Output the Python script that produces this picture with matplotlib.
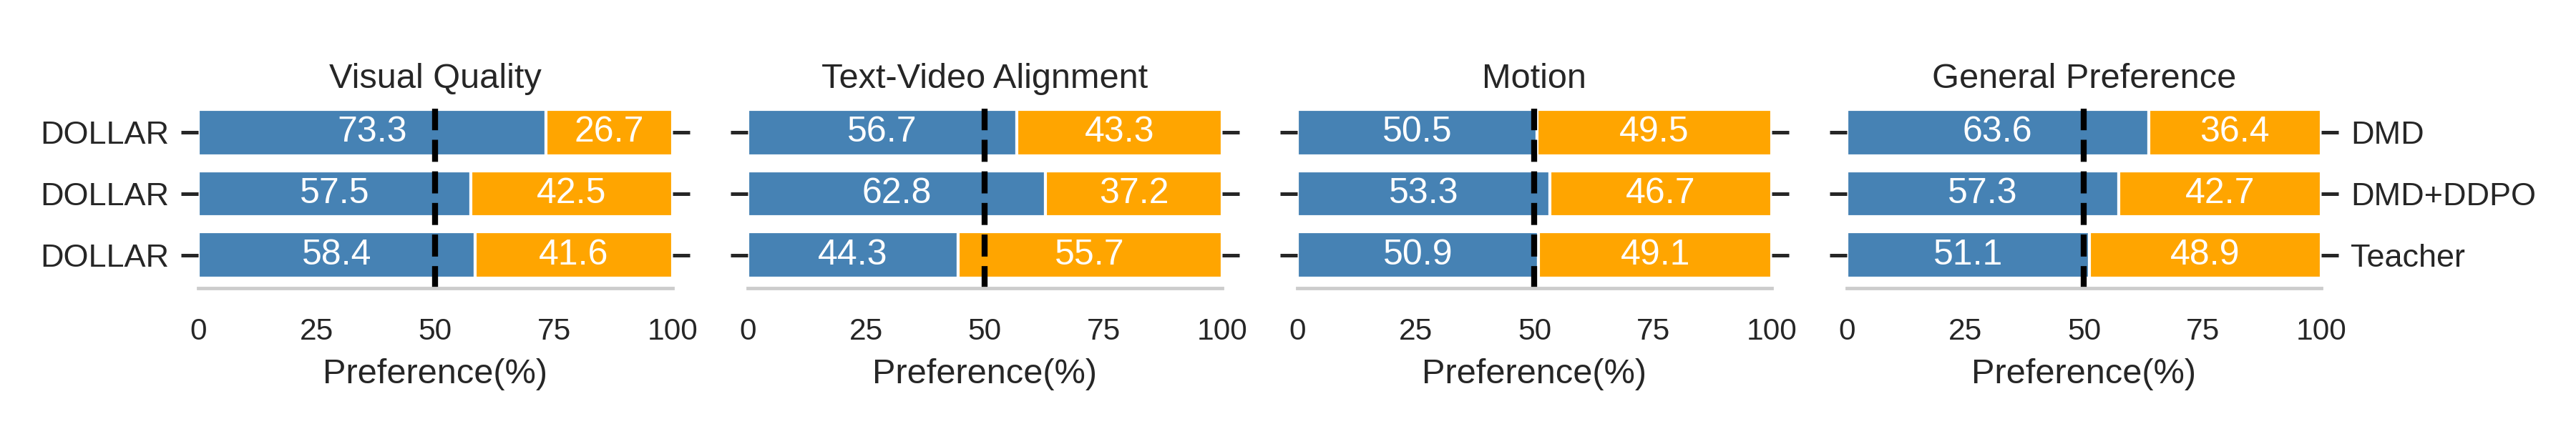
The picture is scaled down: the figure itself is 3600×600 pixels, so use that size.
import matplotlib
matplotlib.use('Agg')
import matplotlib.pyplot as plt

plt.rcParams['font.family'] = ['Liberation Sans', 'DejaVu Sans']

# data
aspects = ['Visual Quality', 'Text-Video Alignment', 'Motion', 'General Preference']
ours = 'DOLLAR'
baselines = ['DMD', 'DMD+DDPO', 'Teacher']
ours_pref = [
    [73.3, 57.5, 58.4],
    [56.7, 62.8, 44.3],
    [50.5, 53.3, 50.9],
    [63.6, 57.3, 51.1],
]
base_pref = [
    [26.7, 42.5, 41.6],
    [43.3, 37.2, 55.7],
    [49.5, 46.7, 49.1],
    [36.4, 42.7, 48.9],
]
x_ticks = [0, 25, 50, 75, 100]

BLUE = '#4682B4'
ORANGE = '#FFA500'
TXT = '#262626'

fig, axes = plt.subplots(1, 4, figsize=(12, 2), dpi=300)
fig.subplots_adjust(left=0.0769, right=0.9011, bottom=0.3278, top=0.7472, wspace=0.1584)

rows = list(range(len(baselines)))
for k, ax in enumerate(axes):
    a = ours_pref[k]
    b = base_pref[k]
    ax.barh(rows, a, height=0.75, color=BLUE, edgecolor='white', linewidth=1)
    ax.barh(rows, b, left=a, height=0.75, color=ORANGE, edgecolor='white', linewidth=1)
    for r in rows:
        ax.text(a[r] / 2, r, f'{a[r]:.1f}', ha='center', va='center', color='white', fontsize=12)
        ax.text(a[r] + b[r] / 2, r, f'{b[r]:.1f}', ha='center', va='center', color='white', fontsize=12)
    ax.axvline(50, color='black', linestyle='--', linewidth=2)

    ax.set_xlim(0, 100)
    ax.set_ylim(2.547, -0.395)
    ax.set_xticks(x_ticks)
    ax.set_xticklabels([str(t) for t in x_ticks])
    ax.set_yticks(rows)
    ax.set_title(aspects[k], fontsize=11.7, color=TXT, pad=6.8)
    ax.set_xlabel('Preference(%)', fontsize=11.7, color=TXT)

    for s in ['top', 'left', 'right']:
        ax.spines[s].set_visible(False)
    ax.spines['bottom'].set_color('#cccccc')
    ax.spines['bottom'].set_linewidth(1.15)

    ax.tick_params(axis='x', length=0, pad=9.8, labelsize=10.2, labelcolor=TXT)
    ax.tick_params(axis='y', left=True, right=True, length=5.8, width=1.2, color=TXT,
                   pad=4, labelsize=10.8, labelcolor=TXT, labelleft=False, labelright=False)

axes[0].set_yticklabels([ours] * len(baselines))
axes[0].tick_params(axis='y', labelleft=True)
axes[-1].set_yticklabels(baselines)
axes[-1].tick_params(axis='y', labelright=True)

fig.savefig('out.png', dpi=300, facecolor='white')
